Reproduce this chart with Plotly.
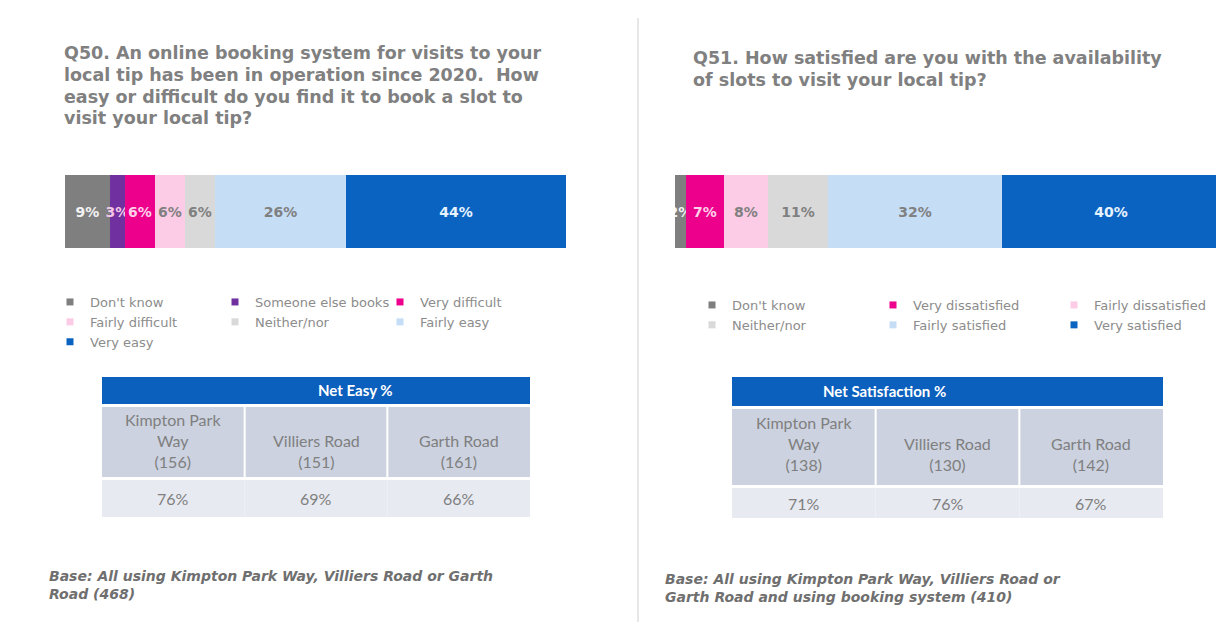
import plotly.graph_objects as go

W, H = 1224, 630
OFFSET = 8  # page body margin: figure is drawn 8px right/down of the window origin

# ---------------- data ----------------
Q50_TITLE_LINES = [
    "Q50. An online booking system for visits to your",
    "local tip has been in operation since 2020.  How",
    "easy or difficult do you find it to book a slot to",
    "visit your local tip?",
]
Q50_CATEGORIES = ["Don't know", "Someone else books", "Very difficult", "Fairly difficult",
                  "Neither/nor", "Fairly easy", "Very easy"]
Q50_VALUES = [9, 3, 6, 6, 6, 26, 44]
Q50_LEGEND_COLUMN = [1, 2, 3, 1, 2, 3, 1]

Q51_TITLE_LINES = [
    "Q51. How satisfied are you with the availability",
    "of slots to visit your local tip?",
]
Q51_CATEGORIES = ["Don't know", "Very dissatisfied", "Fairly dissatisfied", "Neither/nor",
                  "Fairly satisfied", "Very satisfied"]
Q51_VALUES = [2, 7, 8, 11, 32, 40]
Q51_LEGEND_COLUMN = [1, 2, 3, 1, 2, 3]

SITES = ["Kimpton Park<br>Way", "Villiers Road", "Garth Road"]
Q50_TABLE_TITLE = "Net Easy %"
Q50_SITE_BASES = [156, 151, 161]
Q50_NET = [76, 69, 66]
Q51_TABLE_TITLE = "Net Satisfaction %"
Q51_SITE_BASES = [138, 130, 142]
Q51_NET = [71, 76, 67]

Q50_FOOTNOTE = "Base: All using Kimpton Park Way, Villiers Road or Garth<br>Road (468)"
Q51_FOOTNOTE = "Base: All using Kimpton Park Way, Villiers Road or<br>Garth Road and using booking system (410)"

# ---------------- styles ----------------
COLOR_MAP = {
    "Don't know": "#7f7f7f",
    "Someone else books": "#7030a0",
    "Very difficult": "#ec008c",
    "Very dissatisfied": "#ec008c",
    "Fairly difficult": "#fccbe5",
    "Fairly dissatisfied": "#fccbe5",
    "Neither/nor": "#d9d9d9",
    "Fairly easy": "#c6ddf6",
    "Fairly satisfied": "#c6ddf6",
    "Very easy": "#0b63c1",
    "Very satisfied": "#0b63c1",
}
LABEL_COLOR = {
    "Don't know": "#f2f2f2",
    "Someone else books": "#f3c6e6",
    "Very difficult": "#ffd0ea",
    "Very dissatisfied": "#ffd0ea",
    "Very easy": "#e6f3ff",
    "Very satisfied": "#e6f3ff",
}
TITLE_COLOR = "#808080"
TEXT_GREY = "#7f7f7f"


def px(x):
    return (x - OFFSET) / W


def py(y):
    return 1 - (y - OFFSET) / H


fig = go.Figure()


def add_bar(cats, vals, cols, xaxis, yaxis, legend, prefix):
    for c, v, col in zip(cats, vals, cols):
        fig.add_trace(go.Bar(
            x=[v], y=[0], orientation="h", width=1,
            name=c, marker=dict(color=COLOR_MAP[c], line=dict(width=0)),
            text=[f"{v}%"], textposition="inside", insidetextanchor="middle",
            constraintext="none", textangle=0,
            textfont=dict(family="DejaVu Sans", size=14, weight="bold",
                          color=LABEL_COLOR.get(c, "#808080")),
            xaxis=xaxis, yaxis=yaxis, showlegend=False,
            legendgroup=f"{prefix}{col}",
            hovertemplate=c + ": %{x}%<extra></extra>",
        ))
    # legend entries (small square markers)
    for c, col in zip(cats, cols):
        fig.add_trace(go.Scatter(
            x=[None], y=[None], mode="markers", name=c,
            marker=dict(symbol="square", size=7, color=COLOR_MAP[c]),
            xaxis=xaxis, yaxis=yaxis, legend=legend,
            legendgroup=f"{prefix}{col}", showlegend=True,
        ))


add_bar(Q50_CATEGORIES, Q50_VALUES, Q50_LEGEND_COLUMN, "x", "y", "legend", "q50c")
add_bar(Q51_CATEGORIES, Q51_VALUES, Q51_LEGEND_COLUMN, "x2", "y2", "legend2", "q51c")

BAR_TOP, BAR_BOTTOM = 175, 248
axis_common = dict(showgrid=False, zeroline=False, showticklabels=False, showline=False,
                   fixedrange=True)

legend_common = dict(orientation="h", traceorder="grouped", xanchor="left", yanchor="top",
                     font=dict(family="DejaVu Sans", size=13, color="#8c8c8c"),
                     bgcolor="rgba(0,0,0,0)", tracegroupgap=0, itemclick=False,
                     itemdoubleclick=False)

fig.update_layout(
    width=W, height=H,
    margin=dict(l=0, r=0, t=0, b=0, autoexpand=False),
    paper_bgcolor="white", plot_bgcolor="white",
    barmode="stack", bargap=0,
    xaxis=dict(domain=[px(65), px(566)], range=[0, 100], **axis_common),
    yaxis=dict(domain=[py(BAR_BOTTOM), py(BAR_TOP)], range=[-0.5, 0.5], **axis_common),
    xaxis2=dict(domain=[px(675), px(1220)], range=[0, 100], anchor="y2", **axis_common),
    yaxis2=dict(domain=[py(BAR_BOTTOM), py(BAR_TOP)], range=[-0.5, 0.5], anchor="x2", **axis_common),
    legend=dict(x=px(50), y=py(287), entrywidth=120, **legend_common),
    legend2=dict(x=px(692), y=py(290), entrywidth=136, **legend_common),
    showlegend=True,
)

shapes = []
annotations = []

# divider
shapes.append(dict(type="line", xref="paper", yref="paper", x0=px(638), x1=px(638),
                   y0=py(18), y1=py(622), line=dict(color="#cfcfcf", width=1)))

# titles
for lines, x0, ys in [(Q50_TITLE_LINES, 62, [53, 75, 97, 118]), (Q51_TITLE_LINES, 691, [58, 80])]:
    for line, yc in zip(lines, ys):
        annotations.append(dict(text=line, x=px(x0), y=py(yc), xref="paper", yref="paper",
                                xanchor="left", yanchor="middle", showarrow=False,
                                font=dict(family="DejaVu Sans", size=17.5, color=TITLE_COLOR,
                                          weight="bold")))

# footnotes
for text, x0, yc in [(Q50_FOOTNOTE, 47, 585), (Q51_FOOTNOTE, 663, 588)]:
    annotations.append(dict(text=f"<b><i>{text}</i></b>", x=px(x0), y=py(yc), xref="paper",
                            yref="paper", xanchor="left", yanchor="middle", showarrow=False,
                            align="left",
                            font=dict(family="DejaVu Sans", size=14, color="#6f6f6f")))


def add_table(x0, x1, head, site_row, val_row, title, bases, nets, site_bottom_pad):
    shapes.append(dict(type="rect", xref="paper", yref="paper", x0=px(x0), x1=px(x1),
                       y0=py(head[1]), y1=py(head[0]), fillcolor="#0b5fbd",
                       line=dict(width=0), layer="below"))
    annotations.append(dict(text=f"<b>{title}</b>", x=px((x0 + x1) / 2), y=py(sum(head) / 2),
                            xref="paper", yref="paper", showarrow=False,
                            font=dict(family="Lato", size=15, color="white")))
    cw = (x1 - x0) / 3
    for i, (site, base, net) in enumerate(zip(SITES, bases, nets)):
        cx0 = x0 + i * cw
        cx1 = cx0 + cw
        shapes.append(dict(type="rect", xref="paper", yref="paper",
                           x0=px(cx0 + (1 if i else 0)), x1=px(cx1 - (1 if i < 2 else 0)),
                           y0=py(site_row[1]), y1=py(site_row[0]), fillcolor="#ccd2df",
                           line=dict(width=0), layer="below"))
        shapes.append(dict(type="rect", xref="paper", yref="paper",
                           x0=px(cx0), x1=px(cx1),
                           y0=py(val_row[1]), y1=py(val_row[0]), fillcolor="#e7eaf1",
                           line=dict(width=0), layer="below"))
        annotations.append(dict(text=f"{site}<br>({base})", x=px((cx0 + cx1) / 2),
                                y=py(site_row[1] - site_bottom_pad), xref="paper", yref="paper",
                                xanchor="center", yanchor="bottom", showarrow=False,
                                font=dict(family="Lato", size=16, color=TEXT_GREY)))
        annotations.append(dict(text=f"{net}%", x=px((cx0 + cx1) / 2), y=py(sum(val_row) / 2),
                                xref="paper", yref="paper", xanchor="center", yanchor="middle",
                                showarrow=False,
                                font=dict(family="Lato", size=16, color=TEXT_GREY)))


add_table(102, 530, (377, 404), (407, 477), (480, 517), Q50_TABLE_TITLE, Q50_SITE_BASES, Q50_NET, 4)
add_table(732, 1163, (377, 406), (409, 485), (488, 518), Q51_TABLE_TITLE, Q51_SITE_BASES, Q51_NET, 9)

fig.update_layout(shapes=shapes, annotations=annotations)

fig.write_html("out.html")
